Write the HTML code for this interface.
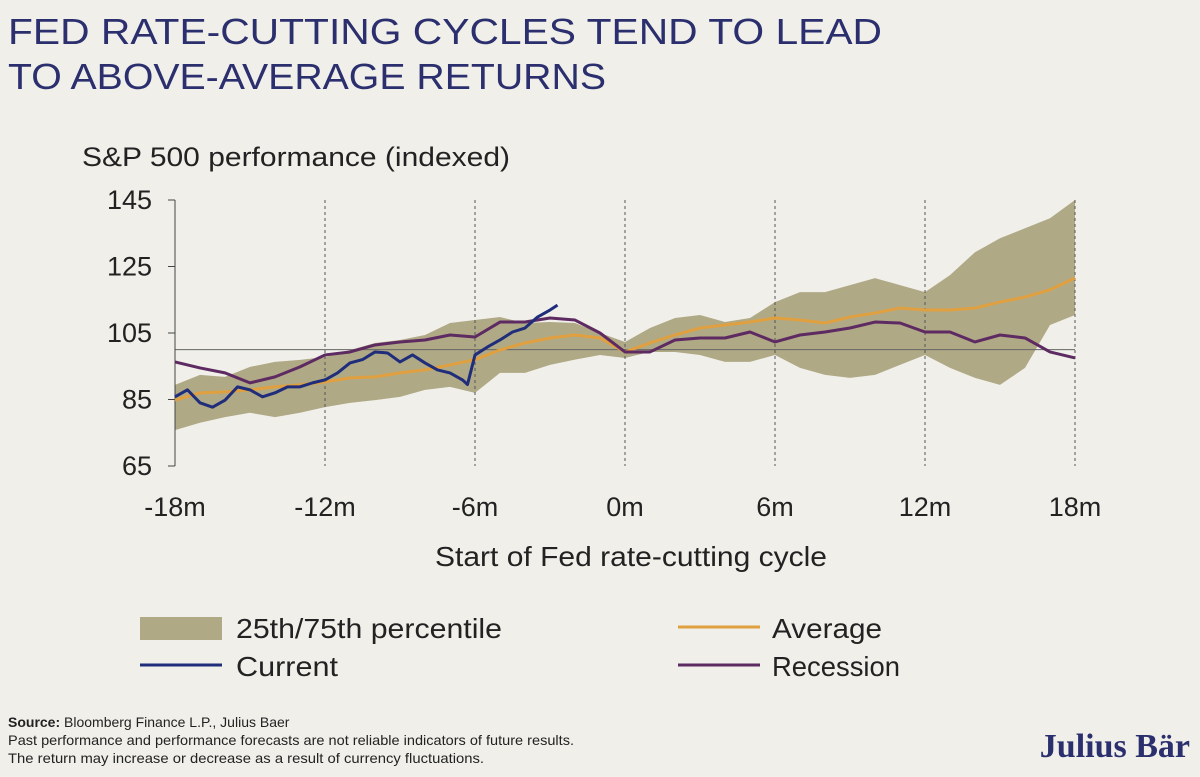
<!DOCTYPE html>
<html><head><meta charset="utf-8"><style>
body{margin:0;background:#f0efea;width:1200px;height:777px;overflow:hidden;font-family:"Liberation Sans",sans-serif}
svg{display:block}
</style></head><body>
<svg id="c" width="1200" height="777">
<rect width="1200" height="777" fill="#f0efea"/>
<text x="8" y="44" font-size="36" fill="#2b2f6e" textLength="874" lengthAdjust="spacingAndGlyphs">FED RATE-CUTTING CYCLES TEND TO LEAD</text>
<text x="8" y="89" font-size="36" fill="#2b2f6e" textLength="598" lengthAdjust="spacingAndGlyphs">TO ABOVE-AVERAGE RETURNS</text>
<text x="82" y="166" font-size="27" fill="#222" textLength="428" lengthAdjust="spacingAndGlyphs">S&amp;P 500 performance (indexed)</text>
<g id="plot"></g>
<text x="435" y="566" font-size="28" fill="#222" textLength="392" lengthAdjust="spacingAndGlyphs">Start of Fed rate-cutting cycle</text>
<g>
<rect x="140" y="617" width="82" height="23" fill="#b0a986"/>
<text x="236" y="638" font-size="28" fill="#222" textLength="266" lengthAdjust="spacingAndGlyphs">25th/75th percentile</text>
<line x1="678" y1="627" x2="760" y2="627" stroke="#e0a040" stroke-width="3"/>
<text x="772" y="638" font-size="28" fill="#222" textLength="110" lengthAdjust="spacingAndGlyphs">Average</text>
<line x1="140" y1="665" x2="222" y2="665" stroke="#1f2d7a" stroke-width="3"/>
<text x="236" y="676" font-size="28" fill="#222" textLength="102" lengthAdjust="spacingAndGlyphs">Current</text>
<line x1="678" y1="665" x2="760" y2="665" stroke="#5e2a62" stroke-width="3"/>
<text x="772" y="676" font-size="28" fill="#222" textLength="128" lengthAdjust="spacingAndGlyphs">Recession</text>
</g>
<g font-size="14" fill="#222">
<text x="8" y="727"><tspan font-weight="bold">Source:</tspan> Bloomberg Finance L.P., Julius Baer</text>
<text x="8" y="745" textLength="566" lengthAdjust="spacingAndGlyphs">Past performance and performance forecasts are not reliable indicators of future results.</text>
<text x="8" y="763" textLength="476" lengthAdjust="spacingAndGlyphs">The return may increase or decrease as a result of currency fluctuations.</text>
</g>
<text x="1190" y="757" font-size="34" font-family="Liberation Serif,serif" font-weight="bold" fill="#2b2f6e" text-anchor="end">Julius Bär</text>
</svg>
<script>
const months=[-18,-17,-16,-15,-14,-13,-12,-11,-10,-9,-8,-7,-6,-5,-4,-3,-2,-1,0,1,2,3,4,5,6,7,8,9,10,11,12,13,14,15,16,17,18];
const bandUpper=[89.4,92.4,91.8,94.8,96.3,96.9,97.8,99.9,102,102.9,104.4,108,108.9,109.8,108,108.3,108,105,102.3,106.5,109.5,110.4,108.3,109.5,114.3,117.3,117.3,119.4,121.5,119.4,117.3,122.4,129.3,133.5,136.5,139.5,145];
const bandLower=[75.8,78,79.7,81,79.7,81,82.7,84,84.8,85.8,87.9,88.8,87,93,93,95.4,97,98.4,97.5,99.3,99.3,98.4,96.3,96.3,98.4,94.5,92.4,91.5,92.4,95.4,98.4,94.5,91.5,89.4,94.5,107.4,110.4];
const average=[84.8,87,87.3,87.9,88.8,89.4,90.3,91.5,91.8,93,93.9,95.4,97,99.9,102,103.5,104.4,103.5,99.3,102,104.4,106.5,107.4,108.3,109.5,108.9,108,109.8,111,112.5,111.9,111.9,112.5,114.3,115.8,118,121.5];
const recession=[96.3,94.5,93,90,91.8,94.8,98.4,99.3,101.4,102.3,102.9,104.4,103.8,108.3,108.3,109.5,108.9,105,99.3,99.3,102.9,103.5,103.5,105.3,102.3,104.4,105.3,106.5,108.3,108,105.3,105.3,102.3,104.4,103.5,99.3,97.5];
const currentMonths=[-18,-17.5,-17,-16.5,-16,-15.5,-15,-14.5,-14,-13.5,-13,-12.5,-12,-11.5,-11,-10.5,-10,-9.5,-9,-8.5,-8,-7.5,-7,-6.5,-6.3,-6,-5.5,-5,-4.5,-4,-3.5,-3,-2.7];
const current=[85.8,87.9,84,82.7,84.8,88.8,87.9,85.8,87,88.8,88.8,90,90.9,93,96,97,99.3,99,96.3,98.4,96,93.9,93,90.9,89.5,98.4,100.8,102.9,105.3,106.5,109.8,111.9,113.4];
const yTicks=[65,85,105,125,145];
const xTicks=[-18,-12,-6,0,6,12,18];
const xTickLabels=["-18m","-12m","-6m","0m","6m","12m","18m"];
const X0=175,X1=1075,Y0=466,Y1=200;
const xs=m=>X0+(m+18)/36*(X1-X0);
const ys=v=>Y0-(v-65)/80*(Y0-Y1);
const NS="http://www.w3.org/2000/svg";
const g=document.getElementById('plot');
function mk(t,a){const e=document.createElementNS(NS,t);for(const k in a)e.setAttribute(k,a[k]);g.appendChild(e);return e;}
let d='M'+months.map((m,i)=>xs(m)+','+ys(bandUpper[i])).join('L');
for(let i=months.length-1;i>=0;i--)d+='L'+xs(months[i])+','+ys(bandLower[i]);
let b=mk('path',{d:d+'Z',fill:'#b0a986'});


xTicks.forEach((m,i)=>{
 if(m!==-18){const l=mk('line',{x1:xs(m),x2:xs(m),y1:Y1,y2:Y0,stroke:'#555','stroke-width':1,'stroke-dasharray':'3,3'});
 
 }
 const t=mk('text',{x:xs(m),y:516,'font-size':27,fill:'#222','text-anchor':'middle'});t.textContent=xTickLabels[i];
 
 
});
const base=mk('line',{x1:X0,x2:X1,y1:ys(100),y2:ys(100),stroke:'#666','stroke-width':1});


const ax=mk('line',{x1:X0,x2:X0,y1:Y1,y2:Y0,stroke:'#444','stroke-width':1});


yTicks.forEach(v=>{
 const tk=mk('line',{x1:X0-7,x2:X0,y1:ys(v),y2:ys(v),stroke:'#444','stroke-width':1});
 
 
 const t=mk('text',{x:152,y:ys(v)+9,'font-size':27,fill:'#222','text-anchor':'end'});t.textContent=v;
 
 
});
function line(mx,vals,col,name){
 const p=mk('path',{d:'M'+mx.map((m,i)=>xs(m)+','+ys(vals[i])).join('L'),fill:'none',stroke:col,'stroke-width':3,'stroke-linejoin':'round'});
 
 
}
line(months,average,'#e0a040','average-line');
line(months,recession,'#5e2a62','recession-line');
line(currentMonths,current,'#1f2d7a','current-line');
</script>
</body></html>
